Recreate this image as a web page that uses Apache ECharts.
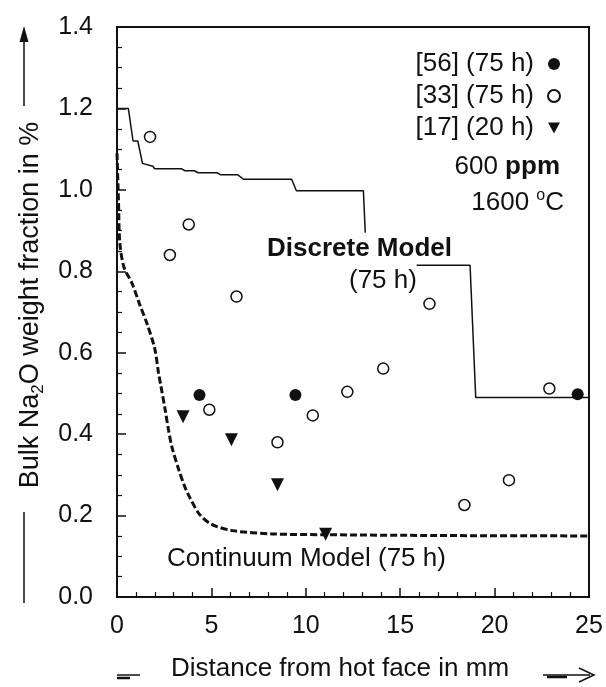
<!DOCTYPE html>
<html>
<head>
<meta charset="utf-8">
<script src="https://cdn.jsdelivr.net/npm/echarts@6/dist/echarts.min.js"></script>
<style>
html, body { margin: 0; padding: 0; background: #fff; }
#chart { width: 606px; height: 687px; }
</style>
</head>
<body>
<div id="chart"></div>
<script>
// 离散模型 (75 h) - step curve, null = gap under the label
var discreteModel = [
	[0, 1.2], [0.6, 1.2], [0.85, 1.12], [1.1, 1.12], [1.35, 1.065], [1.9, 1.058],
	[2.0, 1.052], [3.4, 1.052], [3.6, 1.047], [4.1, 1.047], [4.3, 1.042], [5.3, 1.042],
	[5.5, 1.037], [6.4, 1.037], [6.7, 1.026], [9.25, 1.026], [9.5, 0.998], [13.05, 0.998],
	[13.15, 0.895], null, [15.87, 0.815], [18.7, 0.815], [19.0, 0.49], [25, 0.49]
];
// 连续模型 (75 h)
var continuumModel = [
	[0.0, 1.09], [0.08, 0.97], [0.15, 0.87], [0.37, 0.81], [0.8, 0.77], [1.19, 0.72],
	[1.6, 0.67], [2.0, 0.61], [2.2, 0.55], [2.32, 0.52], [2.55, 0.46], [2.73, 0.41],
	[2.9, 0.37], [3.29, 0.31], [3.6, 0.27], [3.86, 0.244], [4.37, 0.203], [4.99, 0.179],
	[6.12, 0.163], [8.2, 0.155], [11, 0.153], [17, 0.151], [25, 0.15]
];
// 测量点
var ref56 = [[4.37, 0.496], [9.45, 0.496], [24.4, 0.498]];
var ref33 = [
	[1.75, 1.13], [3.8, 0.915], [2.8, 0.84], [6.33, 0.738], [16.55, 0.72], [14.1, 0.561],
	[12.2, 0.504], [4.89, 0.46], [10.37, 0.446], [8.5, 0.38], [22.9, 0.512], [20.76, 0.287],
	[18.4, 0.226]
];
var ref17 = [[3.5, 0.443], [6.06, 0.386], [8.5, 0.276], [11.05, 0.154]];
var seriesNames = ['[56] (75 h)', '[33] (75 h)', '[17] (20 h)'];

var FONT = '"Liberation Sans", Arial, sans-serif';
var TRI_DOWN = 'path://M0,0 L12,0 L6,11 Z';
var chart = echarts.init(document.getElementById('chart'));

var axisCommon = {
	axisLine: { show: true, lineStyle: { color: '#111', width: 2 } },
	axisTick: { show: true, inside: true, length: 9, lineStyle: { color: '#111', width: 1.5 } },
	minorTick: { show: true, length: 5, lineStyle: { color: '#111', width: 1.2 } },
	splitLine: { show: false },
	axisLabel: { color: '#111', fontSize: 25, fontFamily: FONT }
};

var option = {
	backgroundColor: '#fff',
	animation: false,
	grid: { left: 117, right: 17, top: 27, bottom: 87, show: true, borderColor: '#111', borderWidth: 2 },
	legend: {
		orient: 'vertical',
		right: 40,
		top: 45,
		align: 'right',
		itemGap: 4,
		itemWidth: 12,
		itemHeight: 12,
		textStyle: { color: '#111', fontSize: 26, fontFamily: FONT, lineHeight: 28, padding: [0, 9, 0, 0] },
		data: [
			{ name: seriesNames[0], icon: 'circle' },
			{ name: seriesNames[1], icon: 'circle' },
			{ name: seriesNames[2], icon: TRI_DOWN }
		]
	},
	xAxis: Object.assign({}, axisCommon, {
		type: 'value', min: 0, max: 25, interval: 5,
		minorTick: Object.assign({}, axisCommon.minorTick, { splitNumber: 5 }),
		axisLabel: Object.assign({}, axisCommon.axisLabel, { margin: 17 }),
		name: 'Distance from hot face in mm',
		nameLocation: 'middle',
		nameGap: 59,
		nameTextStyle: { color: '#111', fontSize: 26, fontFamily: FONT, padding: [0, 26, 0, 0] }
	}),
	yAxis: Object.assign({}, axisCommon, {
		type: 'value', min: 0, max: 1.4, interval: 0.2,
		minorTick: Object.assign({}, axisCommon.minorTick, { splitNumber: 4 }),
		axisLabel: Object.assign({}, axisCommon.axisLabel, {
			margin: 24,
			formatter: function (v) { return v.toFixed(1); }
		}),
		name: '{a|Bulk Na}{s|2}{a|O weight fraction in %}',
		nameLocation: 'middle',
		nameGap: 70,
		nameTextStyle: {
			padding: [0, 0, 0, 14],
			rich: {
				a: { color: '#111', fontSize: 27, fontFamily: FONT, lineHeight: 32 },
				s: { color: '#111', fontSize: 17, fontFamily: FONT, lineHeight: 17, verticalAlign: 'bottom' }
			}
		}
	}),
	series: [
		{
			name: 'Discrete Model', type: 'line', data: discreteModel, symbol: 'none',
			connectNulls: false, lineStyle: { color: '#111', width: 1.5 }, z: 2
		},
		{
			name: 'Continuum Model', type: 'line', data: continuumModel, symbol: 'none', smooth: 0.3,
			lineStyle: { color: '#111', width: 3, type: [7, 3] }, z: 2
		},
		{
			name: seriesNames[0], type: 'scatter', data: ref56, symbol: 'circle', symbolSize: 12,
			itemStyle: { color: '#111', opacity: 1 }, z: 3
		},
		{
			name: seriesNames[1], type: 'scatter', data: ref33, symbol: 'circle', symbolSize: 11,
			itemStyle: { color: '#fff', borderColor: '#111', borderWidth: 1.5, opacity: 1 }, z: 3
		},
		{
			name: seriesNames[2], type: 'scatter', data: ref17, symbol: 'triangle', symbolRotate: 180,
			symbolSize: 13, itemStyle: { color: '#111', opacity: 1 }, z: 3
		}
	],
	graphic: [
		{ type: 'text', right: 46, top: 154, style: {
			text: '{a|600 }{b|ppm}', align: 'right',
			rich: {
				a: { fontSize: 26, fontFamily: FONT, fill: '#111' },
				b: { fontSize: 26, fontFamily: FONT, fontWeight: 'bold', fill: '#111' }
			}
		} },
		{ type: 'text', right: 42, top: 188, style: {
			text: '{a|1600 }{s|o}{a|C}', align: 'right',
			rich: {
				a: { fontSize: 26, fontFamily: FONT, fill: '#111', lineHeight: 30 },
				s: { fontSize: 16, fontFamily: FONT, fill: '#111', verticalAlign: 'top', lineHeight: 16 }
			}
		} },
		{ type: 'text', left: 267, top: 236, style: {
			text: 'Discrete Model', fontSize: 26, fontWeight: 'bold', fontFamily: FONT, fill: '#111'
		} },
		{ type: 'text', left: 349, top: 268, style: {
			text: '(75 h)', fontSize: 26, fontFamily: FONT, fill: '#111'
		} },
		{ type: 'text', left: 167, top: 546, style: {
			text: 'Continuum Model (75 h)', fontSize: 26, fontFamily: FONT, fill: '#111'
		} },
		// 坐标轴标题的箭头
		{ type: 'line', shape: { x1: 24, y1: 106, x2: 24, y2: 32 }, style: { stroke: '#111', lineWidth: 1.5 } },
		{ type: 'polygon', shape: { points: [[24, 26], [19.5, 42], [28.5, 42]] }, style: { fill: '#111' } },
		{ type: 'line', shape: { x1: 24, y1: 512, x2: 24, y2: 603 }, style: { stroke: '#111', lineWidth: 1.5 } },
		{ type: 'line', shape: { x1: 117, y1: 675, x2: 140, y2: 675 }, style: { stroke: '#111', lineWidth: 1.5 } },
		{ type: 'line', shape: { x1: 117, y1: 678, x2: 130, y2: 678 }, style: { stroke: '#111', lineWidth: 2.5 } },
		{ type: 'line', shape: { x1: 543, y1: 675, x2: 590, y2: 675 }, style: { stroke: '#111', lineWidth: 1.5 } },
		{ type: 'line', shape: { x1: 547, y1: 677, x2: 567, y2: 677 }, style: { stroke: '#111', lineWidth: 2.5 } },
		{ type: 'polyline', shape: { points: [[579, 668], [594, 675], [579, 682]] }, style: { stroke: '#111', lineWidth: 1.5, fill: null } }
	]
};
chart.setOption(option);
</script>
</body>
</html>
